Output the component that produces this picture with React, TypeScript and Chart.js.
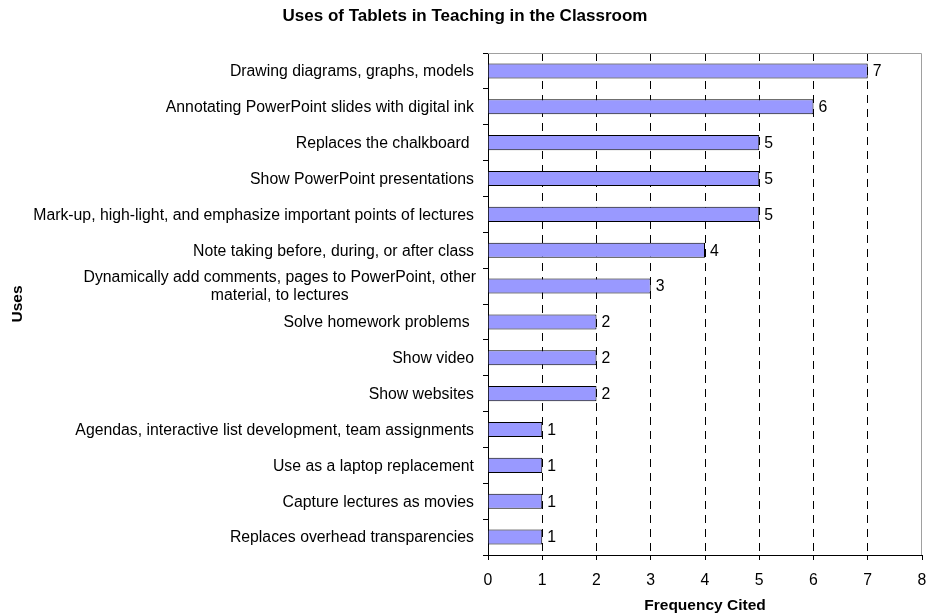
import React, { useEffect, useRef } from "react";
import { Chart, registerables } from "chart.js";

Chart.register(...registerables);

const TITLE = "Uses of Tablets in Teaching in the Classroom";
const X_TITLE = "Frequency Cited";
const Y_TITLE = "Uses";

const categories: (string | string[])[] = [
  "Drawing diagrams, graphs, models",
  "Annotating PowerPoint slides with digital ink",
  "Replaces the chalkboard ",
  "Show PowerPoint presentations",
  "Mark-up, high-light, and emphasize important points of lectures",
  "Note taking before, during, or after class",
  ["Dynamically add comments, pages to PowerPoint, other", "material, to lectures"],
  "Solve homework problems ",
  "Show video",
  "Show websites",
  "Agendas, interactive list development, team assignments",
  "Use as a laptop replacement",
  "Capture lectures as movies",
  "Replaces overhead transparencies",
];

const frequency = [7, 6, 5, 5, 5, 4, 3, 2, 2, 2, 1, 1, 1, 1];

const xMin = 0;
const xMax = 8;

const FONT = "'Liberation Sans', Arial, sans-serif";
const LABEL_SIZE = 15.8;

const frameBorder = {
  id: "frameBorder",
  beforeDatasetsDraw(chart: any) {
    const { ctx, chartArea } = chart;
    ctx.save();
    ctx.strokeStyle = "#a0a0a0";
    ctx.lineWidth = 1;
    ctx.beginPath();
    ctx.moveTo(chartArea.left, chartArea.top + 0.5);
    ctx.lineTo(chartArea.right - 0.5, chartArea.top + 0.5);
    ctx.lineTo(chartArea.right - 0.5, chartArea.bottom);
    ctx.stroke();
    ctx.restore();
  },
};

const valueLabels = {
  id: "valueLabels",
  afterDatasetsDraw(chart: any) {
    const { ctx } = chart;
    const meta = chart.getDatasetMeta(0);
    const data = chart.data.datasets[0].data;
    ctx.save();
    ctx.font = `${LABEL_SIZE}px ${FONT}`;
    ctx.fillStyle = "#000";
    ctx.textAlign = "left";
    ctx.textBaseline = "middle";
    meta.data.forEach((bar: any, i: number) => {
      ctx.fillText(String(data[i]), bar.x + 5, bar.y + 1);
    });
    ctx.restore();
  },
};

const categoryLabels = {
  id: "categoryLabels",
  afterDraw(chart: any) {
    const { ctx } = chart;
    const yScale = chart.scales.y;
    const right = yScale.right - 14;
    ctx.save();
    ctx.font = `${LABEL_SIZE}px ${FONT}`;
    ctx.fillStyle = "#000";
    ctx.textBaseline = "middle";
    const lineH = 18;
    chart.data.labels.forEach((lab: any, i: number) => {
      const y = yScale.getPixelForValue(i) + 1;
      if (Array.isArray(lab)) {
        const widths = lab.map((l: string) => ctx.measureText(l).width);
        const maxW = Math.max(...widths);
        const cx = right + 2 - maxW / 2;
        ctx.textAlign = "center";
        lab.forEach((l: string, k: number) => {
          const yy = y + (k - (lab.length - 1) / 2) * lineH;
          ctx.fillText(l, cx, yy);
        });
      } else {
        ctx.textAlign = "right";
        ctx.fillText(lab, right, y);
      }
    });
    ctx.restore();
  },
};

export default function App() {
  const ref = useRef<HTMLCanvasElement | null>(null);

  useEffect(() => {
    if (!ref.current) return;
    const chart = new Chart(ref.current, {
      type: "bar",
      data: {
        labels: categories as any,
        datasets: [
          {
            data: frequency,
            backgroundColor: "#9999FF",
            borderColor: "#000000",
            borderWidth: 1,
            barPercentage: 0.42,
            categoryPercentage: 1,
          },
        ],
      },
      options: {
        indexAxis: "y",
        responsive: false,
        animation: false,
        devicePixelRatio: 1,
        layout: { padding: { left: 8, right: 6, top: 0, bottom: 0 } },
        plugins: {
          legend: { display: false },
          tooltip: { enabled: false },
          title: {
            display: true,
            text: TITLE,
            color: "#000",
            font: { family: FONT, size: 17, weight: "bold" },
            padding: { top: 6, bottom: 26.6 },
          },
        },
        scales: {
          x: {
            type: "linear",
            min: xMin,
            max: xMax,
            ticks: {
              stepSize: 1,
              color: "#000",
              font: { family: FONT, size: LABEL_SIZE },
              padding: 11,
            },
            grid: {
              color: (c: any) =>
                c.tick && (c.tick.value === xMin || c.tick.value === xMax) ? "rgba(0,0,0,0)" : "#000",
              lineWidth: 1,
              drawTicks: true,
              tickLength: 5,
              tickColor: "#000",
              tickBorderDash: [],
            },
            border: { display: true, color: "#000", width: 1, dash: [8, 6] },
            title: {
              display: true,
              text: X_TITLE,
              color: "#000",
              font: { family: FONT, size: 15.5, weight: "bold" },
              padding: { top: 0, bottom: 1 },
            },
            afterFit: (s: any) => {
              s.height = 61;
              s.paddingLeft = 0;
              s.paddingRight = 0;
            },
          },
          y: {
            type: "category",
            ticks: { display: false },
            grid: {
              display: true,
              drawOnChartArea: false,
              drawTicks: true,
              tickLength: 5,
              tickColor: "#000",
              color: "#000",
              offset: true,
            },
            border: { display: true, color: "#000", width: 1 },
            title: {
              display: true,
              text: Y_TITLE,
              color: "#000",
              font: { family: FONT, size: 15.5, weight: "bold" },
              padding: { top: 0, bottom: 0 },
            },
            afterFit: (s: any) => {
              s.width = 480;
              s.paddingTop = 0;
              s.paddingBottom = 0;
            },
          },
        },
      } as any,
      plugins: [frameBorder, valueLabels, categoryLabels],
    });
    return () => chart.destroy();
  }, []);

  return (
    <div style={{ position: "absolute", left: 0, top: 0, width: 928, height: 616, background: "#fff" }}>
      <canvas ref={ref} width={928} height={616} style={{ display: "block", width: 928, height: 616 }} />
    </div>
  );
}
